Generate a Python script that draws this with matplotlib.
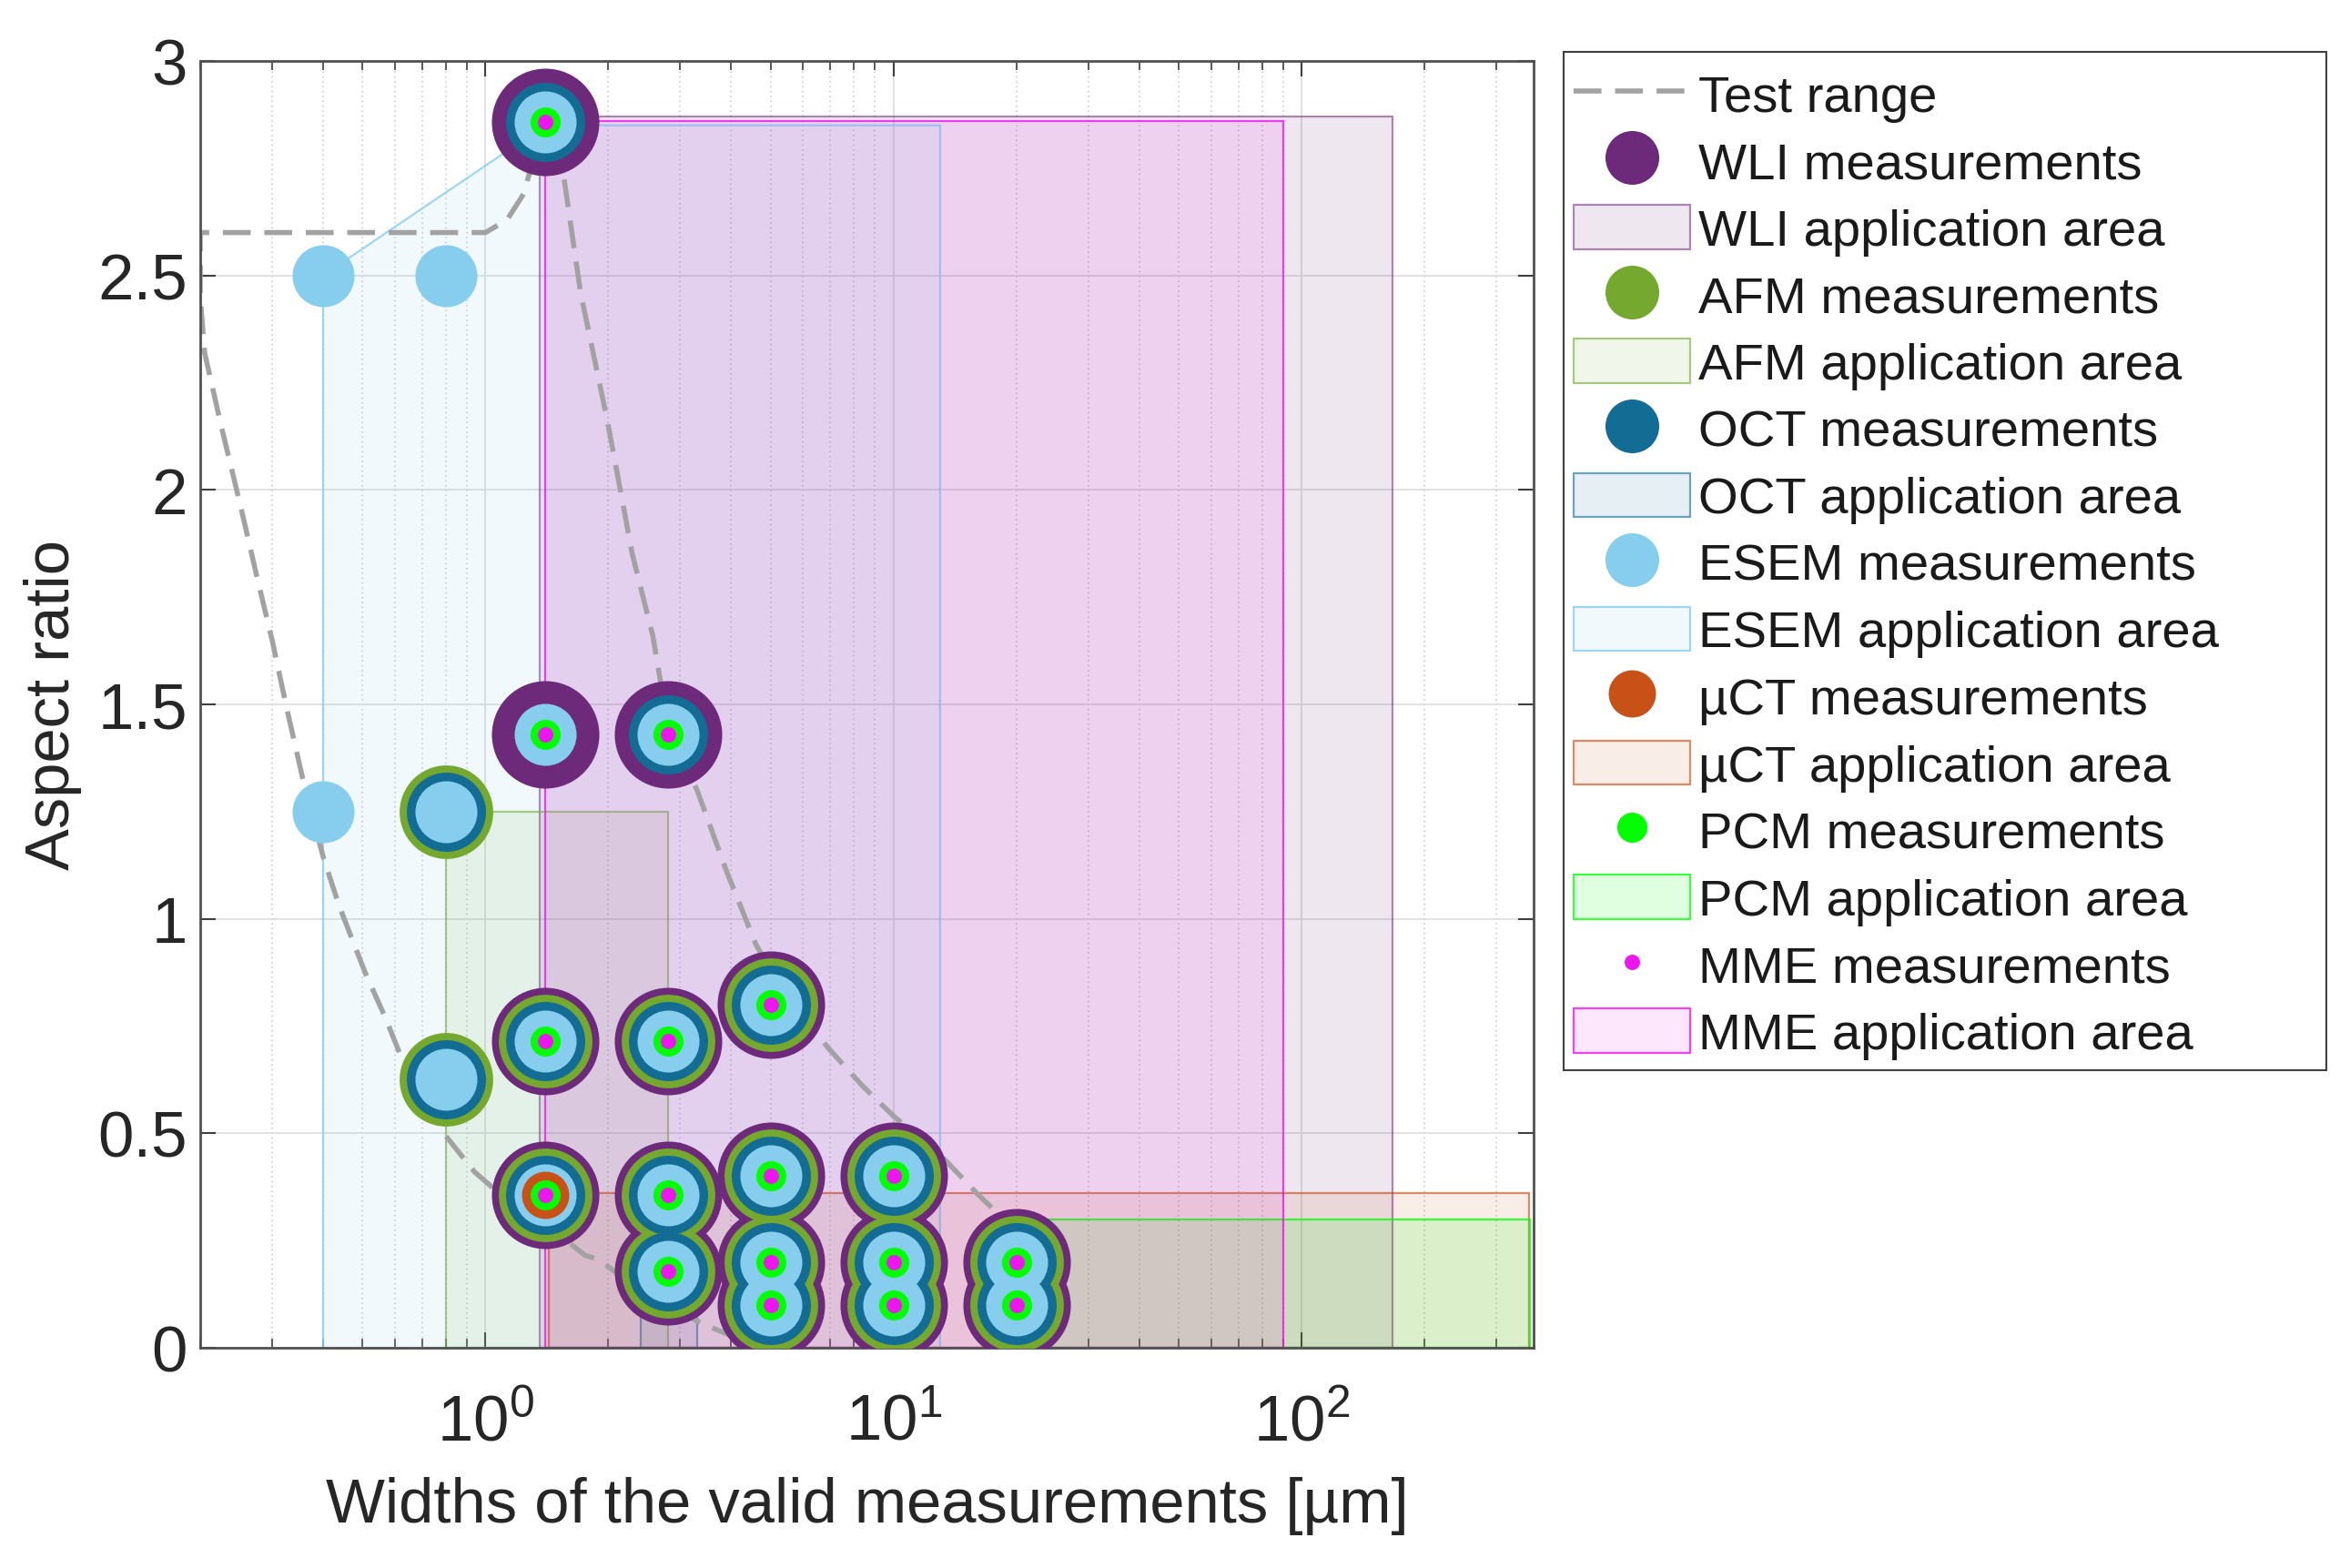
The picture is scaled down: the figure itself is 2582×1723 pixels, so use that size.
import matplotlib
matplotlib.use('Agg')
import matplotlib.pyplot as plt
import matplotlib.ticker as mticker
from matplotlib.lines import Line2D
from matplotlib.patches import Patch, Rectangle

plt.rcParams['font.family'] = ['Liberation Sans', 'DejaVu Sans']
plt.rcParams['mathtext.fontset'] = 'custom'
plt.rcParams['mathtext.rm'] = 'Liberation Sans'

# measured geometries: width [um] and aspect ratio
wli_x = [1.4, 1.4, 2.8, 1.4, 2.8, 5, 1.4, 2.8, 2.8, 5, 5, 5, 10, 10, 10, 20, 20]
wli_y = [2.857, 1.429, 1.429, 0.714, 0.714, 0.8, 0.357, 0.357, 0.179, 0.4, 0.2, 0.1, 0.4, 0.2, 0.1, 0.2, 0.1]
afm_x = [0.8, 0.8, 1.4, 2.8, 5, 1.4, 2.8, 2.8, 5, 5, 5, 10, 10, 10, 20, 20]
afm_y = [1.25, 0.625, 0.714, 0.714, 0.8, 0.357, 0.357, 0.179, 0.4, 0.2, 0.1, 0.4, 0.2, 0.1, 0.2, 0.1]
oct_x = [1.4, 2.8, 0.8, 0.8, 1.4, 2.8, 5, 1.4, 2.8, 2.8, 5, 5, 5, 10, 10, 10, 20, 20]
oct_y = [2.857, 1.429, 1.25, 0.625, 0.714, 0.714, 0.8, 0.357, 0.357, 0.179, 0.4, 0.2, 0.1, 0.4, 0.2, 0.1, 0.2, 0.1]
esem_x = [0.4, 0.8, 0.4, 0.8, 0.8, 1.4, 1.4, 2.8, 1.4, 2.8, 5, 1.4, 2.8, 2.8, 5, 5, 5, 10, 10, 10, 20, 20]
esem_y = [2.5, 2.5, 1.25, 1.25, 0.625, 2.857, 1.429, 1.429, 0.714, 0.714, 0.8, 0.357, 0.357, 0.179, 0.4, 0.2, 0.1, 0.4, 0.2, 0.1, 0.2, 0.1]
uct_x = [1.4]
uct_y = [0.357]
pcm_x = wli_x
pcm_y = wli_y
mme_x = wli_x
mme_y = wli_y

# application areas: x0, x1, y0, y1
wli_area = [1.36, 167, 0, 2.87]
afm_area = [0.8, 2.8, 0, 1.25]
oct_area = [2.4, 3.3, 0, 0.18]
uct_area = [1.43, 360, 0, 0.36]
pcm_area = [20, 362, 0, 0.30]
mme_area = [1.4, 90, 0, 2.86]
# ESEM area is a polygon
esem_area_x = [0.4, 0.4, 1.4, 13, 13]
esem_area_y = [0, 2.5, 2.85, 2.85, 0]

# test range outline
test_x = [20, 17.9, 16.0, 13.0, 10.0, 8.4, 6.9, 5.0, 4.6, 3.9, 3.3, 2.8, 2.57, 2.29, 1.99, 1.71, 1.55,
          1.4, 1.3, 1.24, 1.13, 1.0, 0.6, 0.2, 0.2, 0.205, 0.225, 0.25, 0.275, 0.3, 0.326, 0.356, 0.4,
          0.438, 0.507, 0.57, 0.62, 0.79, 0.94, 1.06, 1.4, 1.75, 1.9, 2.5, 3.46, 4.2]
test_y = [0.25, 0.315, 0.36, 0.45, 0.54, 0.61, 0.70, 0.88, 0.94, 1.11, 1.30, 1.45, 1.66, 1.85, 2.16, 2.46, 2.74,
          2.86, 2.76, 2.69, 2.63, 2.6, 2.6, 2.6, 2.45, 2.32, 2.15, 1.97, 1.80, 1.65, 1.49, 1.33, 1.145,
          1.03, 0.875, 0.767, 0.68, 0.50, 0.41, 0.367, 0.29, 0.216, 0.205, 0.12, 0.053, 0.02]

y_ticks = [0, 0.5, 1, 1.5, 2, 2.5, 3]
y_tick_labels = ['0', '0.5', '1', '1.5', '2', '2.5', '3']
x_ticks = [1, 10, 100]
x_tick_labels = [r'$\mathregular{10^{0}}$', r'$\mathregular{10^{1}}$', r'$\mathregular{10^{2}}$']

c_wli = '#6D2A7B'
c_afm = '#74A82E'
c_oct = '#126C94'
c_esem = '#86CDEE'
c_uct = '#C85117'
c_pcm = '#00FF00'
c_mme = '#EE16EE'
c_test = '#A2A2A2'
test_ls = (0, (5.5, 2.7))

fig = plt.figure(figsize=(25.82, 17.24), dpi=100)
ax = fig.add_axes([220 / 2582, 1 - 1482 / 1724, 1465 / 2582, 1414 / 1724])


def add_area(area, color, fa, ea):
    x0, x1, y0, y1 = area
    ax.fill([x0, x0, x1, x1], [y0, y1, y1, y0], facecolor=matplotlib.colors.to_rgba(color, fa),
            edgecolor=matplotlib.colors.to_rgba(color, ea), lw=1.6, zorder=1)


add_area(wli_area, c_wli, 0.11, 0.55)
add_area(afm_area, c_afm, 0.10, 0.6)
add_area(oct_area, c_oct, 0.10, 0.6)
ax.fill(esem_area_x, esem_area_y, facecolor=matplotlib.colors.to_rgba(c_esem, 0.11),
        edgecolor=matplotlib.colors.to_rgba(c_esem, 0.8), lw=1.6, zorder=1)
add_area(uct_area, c_uct, 0.10, 0.65)
add_area(pcm_area, c_pcm, 0.12, 0.75)
add_area(mme_area, c_mme, 0.10, 0.8)

ax.plot(test_x, test_y, color=c_test, lw=4, ls=test_ls, zorder=2)

ax.plot(wli_x, wli_y, 'o', color=c_wli, ms=85, mew=0, zorder=3)
ax.plot(afm_x, afm_y, 'o', color=c_afm, ms=74, mew=0, zorder=4)
ax.plot(oct_x, oct_y, 'o', color=c_oct, ms=62.6, mew=0, zorder=5)
ax.plot(esem_x, esem_y, 'o', color=c_esem, ms=49, mew=0, zorder=6)
ax.plot(uct_x, uct_y, 'o', color=c_uct, ms=37.4, mew=0, zorder=7)
ax.plot(pcm_x, pcm_y, 'o', color=c_pcm, ms=23.8, mew=0, zorder=8)
ax.plot(mme_x, mme_y, 'o', color=c_mme, ms=12.2, mew=0, zorder=9)

ax.set_xscale('log')
ax.set_xlim(0.2, 370)
ax.set_ylim(0, 3)
ax.set_yticks(y_ticks)
ax.set_yticklabels(y_tick_labels)
ax.set_xticks(x_ticks)
ax.set_xticklabels(x_tick_labels)
ax.xaxis.set_minor_locator(mticker.LogLocator(base=10, subs=range(2, 10), numticks=20))
ax.xaxis.set_minor_formatter(mticker.NullFormatter())
ax.tick_params(which='both', direction='in', top=True, right=True, colors='#404040')
ax.tick_params(which='major', length=12, width=1.5, labelsize=51, labelcolor='#262626')
ax.tick_params(axis='y', which='major', pad=10)
ax.tick_params(axis='x', which='major', pad=36)
ax.tick_params(which='minor', length=7, width=1.2)
ax.set_axisbelow(True)
ax.grid(True, which='major', color='#dedede', lw=1.3)
ax.grid(True, which='minor', axis='x', color='#c4c4c4', lw=1.1, ls=(0, (1, 2.5)))
for s in ax.spines.values():
    s.set_color('#505050')
    s.set_linewidth(2)

ax.set_xlabel('Widths of the valid measurements [µm]', fontsize=49.5, color='#262626', va='center')
ax.xaxis.set_label_coords(0.5, -0.122)
ax.set_ylabel('Aspect ratio', fontsize=49.5, color='#262626', va='center')
ax.yaxis.set_label_coords(-0.1106, 0.5)


def meas(color, ms):
    return Line2D([], [], ls='none', marker='o', color=color, ms=ms, mew=0)


def area(color, fa, ea):
    return Patch(facecolor=matplotlib.colors.to_rgba(color, fa),
                 edgecolor=matplotlib.colors.to_rgba(color, ea), lw=1.6)


handles = [Line2D([], [], color=c_test, lw=4, ls=test_ls),
           meas(c_wli, 42.5), area(c_wli, 0.11, 0.55),
           meas(c_afm, 42.5), area(c_afm, 0.10, 0.6),
           meas(c_oct, 42.5), area(c_oct, 0.10, 0.6),
           meas(c_esem, 42.5), area(c_esem, 0.11, 0.8),
           meas(c_uct, 37.4), area(c_uct, 0.10, 0.65),
           meas(c_pcm, 23.8), area(c_pcm, 0.12, 0.75),
           meas(c_mme, 12.2), area(c_mme, 0.10, 0.8)]
labels = ['Test range', 'WLI measurements', 'WLI application area', 'AFM measurements',
          'AFM application area', 'OCT measurements', 'OCT application area',
          'ESEM measurements', 'ESEM application area', 'µCT measurements', 'µCT application area',
          'PCM measurements', 'PCM application area', 'MME measurements', 'MME application area']

# legend box drawn separately so it matches the wide MATLAB frame
fig.patches.append(Rectangle((1718 / 2582, 1 - 1177 / 1724), 838 / 2582, 1119 / 1724,
                             transform=fig.transFigure, facecolor='white', edgecolor='#404040',
                             lw=1.5, zorder=0))
leg = fig.legend(handles, labels, loc='upper left',
                 bbox_to_anchor=(1729 / 2582, 1 - 79 / 1724), fontsize=40.5,
                 frameon=False, handlelength=2.28, handleheight=0.95, handletextpad=0.16,
                 labelspacing=0.32, borderpad=0, borderaxespad=0)
for t in leg.get_texts():
    t.set_color('#1a1a1a')

fig.savefig('out.png', dpi=100)
